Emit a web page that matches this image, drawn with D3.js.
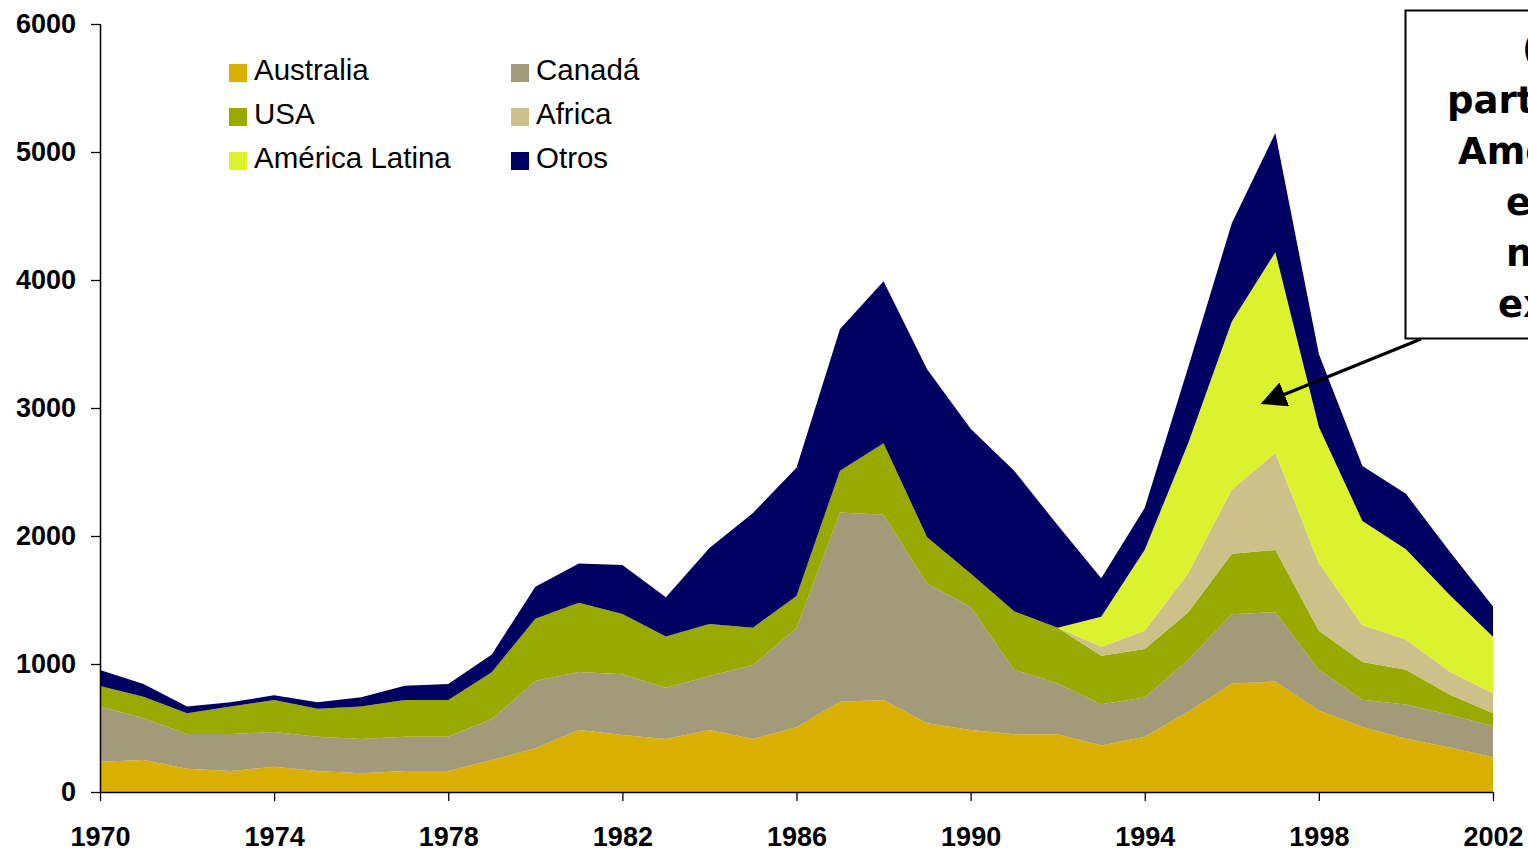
<!DOCTYPE html>
<html>
<head>
<meta charset="utf-8">
<script src="https://cdn.jsdelivr.net/npm/d3@7"></script>
<style>
  body { margin: 0; background: #fff; }
  svg { display: block; }
</style>
</head>
<body>
<div id="chart"></div>
<script>
var width = 1528,
    height = 851;

var years = d3.range(1970, 2003);
var seriesNames = ["Australia", "Canadá", "USA", "Africa", "América Latina", "Otros"];
var seriesColors = ["#dab000", "#a29a79", "#98a900", "#cbc189", "#ddf22f", "#000062"];

var australia = [237, 250, 182, 164, 198, 164, 146, 164, 164, 250, 341, 484, 445, 414, 484, 414, 505, 705, 718, 537, 484, 452, 452, 363, 432, 627, 847, 863, 637, 508, 416, 348, 271];
var canada = [430, 326, 271, 289, 271, 268, 268, 268, 268, 320, 526, 453, 474, 401, 422, 578, 776, 1479, 1448, 1090, 961, 503, 395, 322, 307, 406, 541, 542, 318, 213, 268, 255, 244];
var usa = [161, 169, 162, 214, 250, 219, 253, 287, 287, 365, 487, 542, 472, 399, 406, 292, 251, 326, 559, 364, 263, 457, 436, 380, 378, 372, 474, 485, 305, 295, 271, 159, 101];
var africa = [0, 0, 0, 0, 0, 0, 0, 0, 0, 0, 0, 0, 0, 0, 0, 0, 0, 0, 0, 0, 0, 0, 0, 70, 142, 305, 502, 758, 528, 288, 237, 179, 156];
var latam = [0, 0, 0, 0, 0, 0, 0, 0, 0, 0, 0, 0, 0, 0, 0, 0, 0, 0, 0, 0, 0, 0, 0, 235, 634, 1017, 1311, 1569, 1064, 813, 705, 600, 440];
var otros = [125, 99, 52, 34, 36, 50, 73, 112, 125, 140, 250, 307, 382, 307, 594, 896, 1002, 1108, 1265, 1312, 1130, 1098, 801, 299, 327, 593, 769, 931, 569, 430, 433, 339, 237];

var yTicks = [0, 1000, 2000, 3000, 4000, 5000, 6000];
var xTicks = [1970, 1974, 1978, 1982, 1986, 1990, 1994, 1998, 2002];

var noteLines = ["(Mayor", "participación de", "América Latina", "en el", "nuevo auge", "exploratorio)"];

var allSeries = [australia, canada, usa, africa, latam, otros];
var table = years.map(function(y, i) {
  var row = { year: y };
  seriesNames.forEach(function(n, k) { row[n] = allSeries[k][i]; });
  return row;
});

var svg = d3.select("#chart")
  .append("svg")
  .attr("width", width)
  .attr("height", height);

var x = d3.scaleLinear().domain([1970, 2002]).range([100, 1493]);
var y = d3.scaleLinear().domain([0, 6000]).range([792, 24]);

var stack = d3.stack().keys(seriesNames);
var layers = stack(table);

var area = d3.area()
  .x(function(d) { return x(d.data.year); })
  .y0(function(d) { return y(d[0]); })
  .y1(function(d) { return y(d[1]); });

svg.selectAll(".layer")
  .data(layers)
  .enter().append("path")
    .attr("class", "layer")
    .attr("fill", function(d, i) { return seriesColors[i]; })
    .attr("d", area);

// axes
var yAxis = svg.append("g")
  .attr("transform", "translate(100,0)")
  .call(d3.axisLeft(y).tickValues(yTicks).tickSize(9).tickPadding(15).tickFormat(d3.format("d")));

var xAxis = svg.append("g")
  .attr("transform", "translate(0,792)")
  .call(d3.axisBottom(x).tickValues(xTicks).tickSize(9).tickPadding(26).tickFormat(d3.format("d")));

svg.selectAll(".domain").attr("stroke", "#000").attr("stroke-width", 1.5);
svg.selectAll(".tick line").attr("stroke", "#000").attr("stroke-width", 1.3);
xAxis.select(".domain").attr("d", "M100,0.5H1493.5");
yAxis.select(".domain").attr("d", "M0.5,24V792");
svg.selectAll(".tick text")
  .attr("fill", "#000")
  .style("font-family", "'Liberation Sans', Arial, sans-serif")
  .style("font-weight", "bold")
  .style("font-size", "27px");

// legend
var legend = svg.append("g");
var legendItems = legend.selectAll("g")
  .data(seriesNames)
  .enter().append("g")
    .attr("transform", function(d, i) {
      var col = i % 2, row = Math.floor(i / 2);
      return "translate(" + (229 + col * 282) + "," + (64 + row * 44) + ")";
    });

legendItems.append("rect")
  .attr("width", 18)
  .attr("height", 18)
  .attr("fill", function(d, i) { return seriesColors[i]; });

legendItems.append("text")
  .attr("x", 25)
  .attr("y", 16)
  .text(function(d) { return d; })
  .style("font-family", "'Liberation Sans', Arial, sans-serif")
  .style("font-size", "29.5px")
  .attr("fill", "#000");

// annotation box
svg.append("rect")
  .attr("x", 1405.5)
  .attr("y", 10.5)
  .attr("width", 400)
  .attr("height", 328)
  .attr("fill", "#fff")
  .attr("stroke", "#000")
  .attr("stroke-width", 2);

var noteX = [1522, 1447, 1458, 1506, 1506, 1498];
svg.append("g").selectAll("text")
  .data(noteLines)
  .enter().append("text")
    .attr("x", function(d, i) { return noteX[i]; })
    .attr("y", function(d, i) { return 62 + i * 51; })
    .text(function(d) { return d; })
    .style("font-family", "'DejaVu Sans', Verdana, sans-serif")
    .style("font-weight", "bold")
    .style("font-size", "37px")
    .attr("fill", "#000");

// arrow
svg.append("defs").append("marker")
  .attr("id", "head")
  .attr("viewBox", "0 0 10 10")
  .attr("refX", 9)
  .attr("refY", 5)
  .attr("markerWidth", 8)
  .attr("markerHeight", 8)
  .attr("markerUnits", "strokeWidth")
  .attr("orient", "auto")
  .append("path")
    .attr("d", "M0,0L10,5L0,10Z")
    .attr("fill", "#000");

svg.append("line")
  .attr("x1", 1421)
  .attr("y1", 339)
  .attr("x2", 1263)
  .attr("y2", 403)
  .attr("stroke", "#000")
  .attr("stroke-width", 3.2)
  .attr("marker-end", "url(#head)");
</script>
</body>
</html>
